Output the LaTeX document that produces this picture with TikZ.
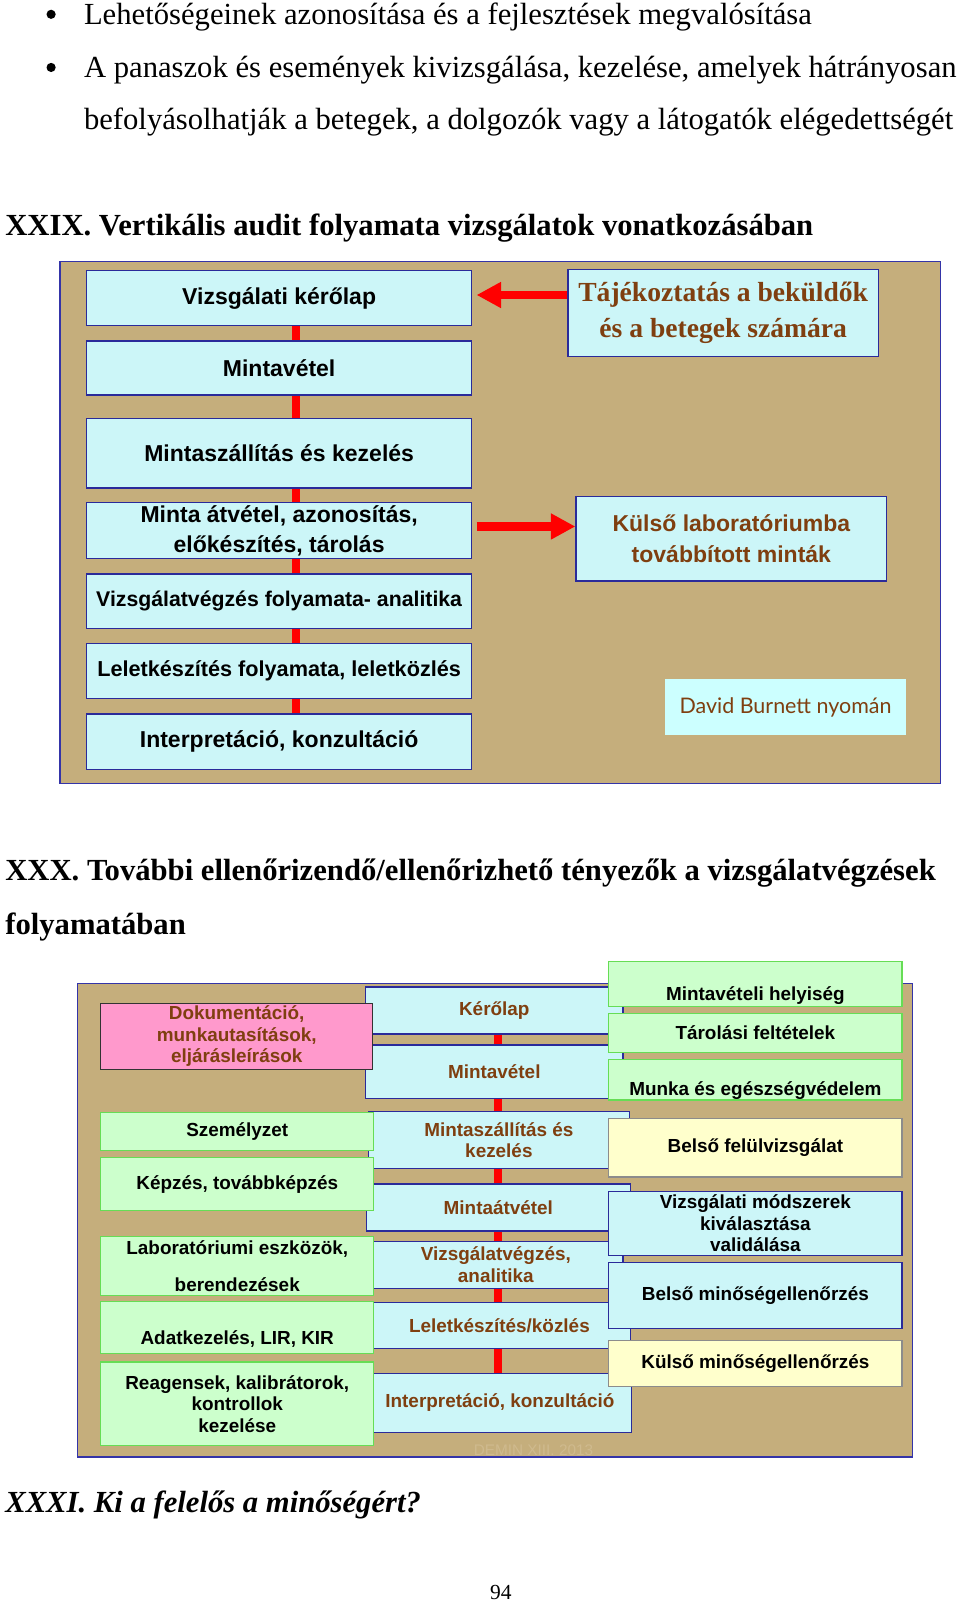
\documentclass[tikz,border=0pt]{standalone}
\usepackage{fontspec}
\setmainfont{Liberation Serif}
\newfontfamily\arialfont{Liberation Sans}
\newfontfamily\gillfont{Lato}
\usetikzlibrary{arrows.meta}

\definecolor{tanbg}{HTML}{C5AE7C}
\definecolor{tanmark}{HTML}{CFBA8E}
\definecolor{frameblue}{HTML}{3434A8}
\definecolor{boxblue}{HTML}{2A2A9A}
\definecolor{boxcyan}{HTML}{CCF6F8}
\definecolor{notecyan}{HTML}{CCFFFF}
\definecolor{boxgreen}{HTML}{CCFFCC}
\definecolor{linegreen}{HTML}{66DD55}
\definecolor{boxyellow}{HTML}{FFFFCC}
\definecolor{linegray}{HTML}{8C8C8C}
\definecolor{boxpink}{HTML}{FF99CC}
\definecolor{brown}{HTML}{7F3F10}
\definecolor{barred}{HTML}{FF0000}

\tikzset{
bodytext/.style={anchor=base west, inner sep=0pt, font=\fontsize{30}{36}\selectfont},
headtext/.style={bodytext, font=\bfseries\fontsize{30}{36}\selectfont},
dot/.style={circle, fill=black, inner sep=0pt, minimum size=9pt},
frame/.style={draw=frameblue, fill=tanbg, line width=1.2pt, anchor=north west, inner sep=0pt},
stepbox/.style={draw=boxblue, fill=boxcyan, line width=1.3pt, anchor=north west, inner sep=0pt, align=center, font=\arialfont\bfseries\fontsize{22.5}{29}\selectfont},
infobox/.style={stepbox, text=brown},
smallbox/.style={stepbox, text=brown, font=\arialfont\bfseries\fontsize{18.5}{21}\selectfont},
greenbox/.style={smallbox, draw=linegreen, fill=boxgreen, text=black},
yellowbox/.style={smallbox, draw=linegray, fill=boxyellow, text=black},
cyanbox/.style={smallbox, text=black},
pinkbox/.style={smallbox, draw=black!80, fill=boxpink},
redbar/.style={draw=barred, line width=8pt},
redarrow/.style={draw=barred, line width=8pt, -{Triangle[length=24pt, width=24pt]}},
}

\begin{document}
\begin{tikzpicture}[x=1pt, y=-1pt]
\useasboundingbox (0,0) rectangle (939.3,1569.5);

% Text above
\node (b1) [dot] at (50,14) {};
\node (b2) [dot] at (50,66) {};
\node (l1) [bodytext] at (82,24) {Lehetőségeinek azonosítása és a fejlesztések megvalósítása};
\node (l2) [bodytext] at (82,76) {A panaszok és események kivizsgálása, kezelése, amelyek hátrányosan};
\node (l3) [bodytext] at (82,127) {befolyásolhatják a betegek, a dolgozók vagy a látogatók elégedettségét};
\node (h1) [headtext] at (5,230) {XXIX. Vertikális audit folyamata vizsgálatok vonatkozásában};

% Nodes
\node (f1) [frame, minimum width=862pt, minimum height=511pt] at (58,255) {};
\node (k1) [stepbox, minimum width=377pt, minimum height=54pt] at (84,264) {Vizsgálati kérőlap};
\node (k2) [stepbox, minimum width=377pt, minimum height=53pt] at (84,333) {Mintavétel};
\node (k3) [stepbox, minimum width=377pt, minimum height=68pt] at (84,409) {Mintaszállítás és kezelés};
\node (k4) [stepbox, minimum width=377pt, minimum height=55pt] at (84,491) {Minta átvétel, azonosítás,\\ előkészítés, tárolás};
\node (k5) [stepbox, minimum width=377pt, minimum height=53pt, font=\arialfont\bfseries\fontsize{20.8}{25}\selectfont] at (84,561) {Vizsgálatvégzés folyamata- analitika};
\node (k6) [stepbox, minimum width=377pt, minimum height=54pt, font=\arialfont\bfseries\fontsize{21.2}{25}\selectfont] at (84,629) {Leletkészítés folyamata, leletközlés};
\node (k7) [stepbox, minimum width=377pt, minimum height=54pt] at (84,698) {Interpretáció, konzultáció};

\node (t1) [stepbox, minimum width=304pt, minimum height=85pt, text=brown, font=\bfseries\fontsize{27}{35}\selectfont] at (555,263) {Tájékoztatás a beküldők\\ és a betegek számára};
\node (e1) [infobox, minimum width=304pt, minimum height=83pt, font=\arialfont\bfseries\fontsize{22.5}{30}\selectfont] at (563,485) {Külső laboratóriumba\\ továbbított minták};
\node (d1) [stepbox, draw=none, fill=notecyan, minimum width=236pt, minimum height=55pt, text=brown, font=\gillfont\fontsize{21}{25}\selectfont] at (650,664) {David Burnett nyomán};

% Connectors
\coordinate (kx) at (290,0);
\begin{scope}[redbar]
\draw (k1.south -| kx) -- (k2.north -| kx);
\draw (k2.south -| kx) -- (k3.north -| kx);
\draw (k3.south -| kx) -- (k4.north -| kx);
\draw (k4.south -| kx) -- (k5.north -| kx);
\draw (k5.south -| kx) -- (k6.north -| kx);
\draw (k6.south -| kx) -- (k7.north -| kx);
\end{scope}
\draw [redarrow, shorten >=4pt] ([yshift=3pt]t1.west |- k1.east) -- ([yshift=3pt]k1.east);
\draw [redarrow, shorten <=4pt] ([yshift=4pt]k4.east) -- ([yshift=4pt]k4.east -| e1.west);

% Text between
\node (h2) [headtext] at (5,862) {XXX. További ellenőrizendő/ellenőrizhető tényezők a vizsgálatvégzések};
\node (h3) [headtext] at (5,914) {folyamatában};

% Nodes
\node (f2) [frame, minimum width=817pt, minimum height=463pt] at (75,962) {};
\node (c1) [smallbox, minimum width=252pt, minimum height=46pt] at (357,965) {Kérőlap};
\node (c2) [smallbox, minimum width=252pt, minimum height=52pt] at (357,1022) {Mintavétel};
\node (c3) [smallbox, minimum width=255pt, minimum height=56pt] at (360,1087) {Mintaszállítás és\\ kezelés};
\node (c4) [smallbox, minimum width=258pt, minimum height=46pt] at (358,1158) {Mintaátvétel};
\node (c5) [smallbox, minimum width=249pt, minimum height=46pt] at (360,1214) {Vizsgálatvégzés,\\ analitika};
\node (c6) [smallbox, minimum width=256pt, minimum height=45pt] at (360,1274) {Leletkészítés/közlés};
\node (c7) [smallbox, minimum width=257pt, minimum height=58pt] at (360,1343) {Interpretáció, konzultáció};

\node (p1) [pinkbox, minimum width=266pt, minimum height=65pt] at (98,981) {Dokumentáció,\\ munkautasítások,\\ eljárásleírások};
\node (g1) [greenbox, minimum width=267pt, minimum height=37pt] at (98,1088) {Személyzet};
\node (g2) [greenbox, minimum width=267pt, minimum height=52pt] at (98,1132) {Képzés, továbbképzés};
\node (g3) [greenbox, minimum width=267pt, minimum height=58pt] at (98,1209) {Laboratóriumi eszközök,\\[15pt] berendezések};
\node (g4) [greenbox, minimum width=267pt, minimum height=51pt] at (98,1273) {\strut\\ Adatkezelés, LIR, KIR};
\node (g5) [greenbox, minimum width=267pt, minimum height=82pt] at (98,1332) {Reagensek, kalibrátorok,\\ kontrollok\\ kezelése};

\node (r1) [greenbox, minimum width=287pt, minimum height=44pt] at (595,940) {\strut\\ Mintavételi helyiség};
\node (r2) [greenbox, minimum width=287pt, minimum height=38pt] at (595,991) {Tárolási feltételek};
\node (r3) [greenbox, minimum width=287pt, minimum height=39pt] at (595,1036) {\strut\\ Munka és egészségvédelem};
\node (r4) [yellowbox, minimum width=287pt, minimum height=57pt] at (595,1094) {Belső felülvizsgálat};
\node (r5) [cyanbox, minimum width=287pt, minimum height=63pt] at (595,1165) {Vizsgálati módszerek\\ kiválasztása\\ validálása};
\node (r6) [cyanbox, minimum width=287pt, minimum height=64pt] at (595,1235) {Belső minőségellenőrzés};
\node (r7) [yellowbox, minimum width=287pt, minimum height=45pt] at (595,1311) {Külső minőségellenőrzés};

\node (wm) [text=tanmark, font=\arialfont\fontsize{15}{18}\selectfont] at (522,1419) {DEMIN XIII. 2013};

% Connectors
\coordinate (cx) at (487,0);
\begin{scope}[redbar]
\draw (c1.south -| cx) -- (c2.north -| cx);
\draw (c2.south -| cx) -- (c3.north -| cx);
\draw (c3.south -| cx) -- (c4.north -| cx);
\draw (c4.south -| cx) -- (c5.north -| cx);
\draw (c5.south -| cx) -- (c6.north -| cx);
\draw (c6.south -| cx) -- (c7.north -| cx);
\end{scope}

% Text below
\node (h4) [headtext, font=\bfseries\itshape\fontsize{30}{36}\selectfont] at (5,1480) {XXXI. Ki a felelős a minőségért?};
\node (pg) [anchor=base, inner sep=0pt, font=\fontsize{21}{25}\selectfont] at (490,1565) {94};

\end{tikzpicture}
\end{document}
